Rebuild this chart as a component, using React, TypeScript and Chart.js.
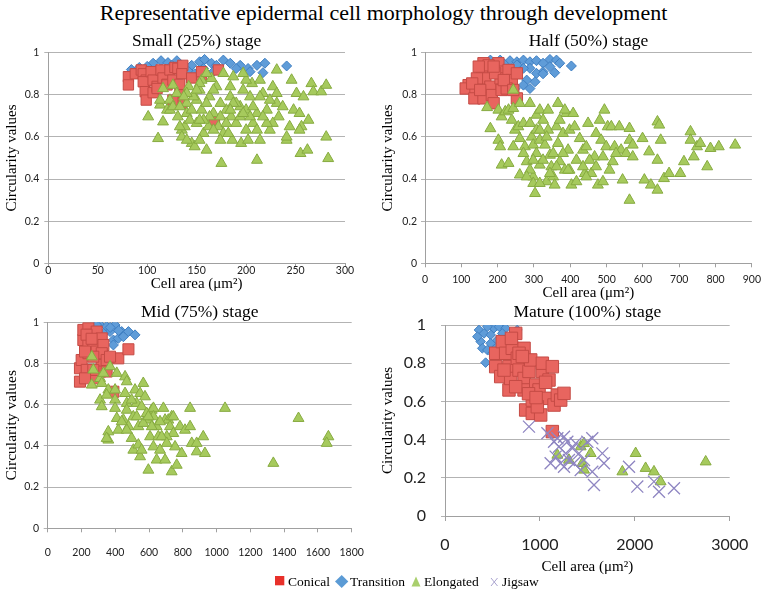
import React, { useEffect, useRef } from "react";
import { Chart, registerables } from "chart.js";

Chart.register(...registerables);

type P = [number, number];

const SERIF = '"Liberation Serif", "Times New Roman", Times, serif';
const SANS = 'Lato, "Liberation Sans", Arial, sans-serif';

const mainTitle = "Representative epidermal cell morphology through development";
const seriesNames = ["Conical", "Transition", "Elongated", "Jigsaw"];
const yTitle = "Circularity values";
const xTitle = "Cell area (μm²)";

const yTicks = [0, 0.2, 0.4, 0.6, 0.8, 1];
const smallXTicks = [0, 50, 100, 150, 200, 250, 300];
const halfXTicks = [0, 100, 200, 300, 400, 500, 600, 700, 800, 900];
const midXTicks = [0, 200, 400, 600, 800, 1000, 1200, 1400, 1600, 1800];
const matureXTicks = [0, 1000, 2000, 3000];

// ---------- Small (25%) ----------
const smallConical: P[] = [
  [81, 0.886], [81, 0.847], [88, 0.9], [94, 0.918], [96, 0.9], [99, 0.87], [96, 0.862], [98, 0.815],
  [99, 0.775], [104, 0.91], [106, 0.87], [106, 0.81], [110, 0.84], [110, 0.83], [114, 0.918], [116, 0.88],
  [120, 0.85], [123, 0.918], [120, 0.847], [126, 0.87], [128, 0.93], [131, 0.926], [136, 0.94], [135, 0.9],
  [133, 0.85], [133, 0.8], [135, 0.76], [126, 0.775], [145, 0.88], [155, 0.894], [155, 0.91], [172, 0.918],
  [168, 0.68],
];
const smallTransition: P[] = [
  [84, 0.92], [106, 0.95], [114, 0.962], [121, 0.953], [130, 0.962], [137, 0.934], [145, 0.94], [153, 0.957],
  [158, 0.968], [165, 0.95], [170, 0.94], [177, 0.965], [184, 0.95], [194, 0.94], [202, 0.925], [211, 0.94],
  [219, 0.95], [217, 0.905], [204, 0.91], [241, 0.937], [133, 0.886], [142, 0.91], [148, 0.9], [157, 0.925],
  [167, 0.91], [190, 0.925], [174, 0.91], [92, 0.93], [100, 0.935], [125, 0.94],
];
const smallElongated: P[] = [
  [101, 0.696], [111, 0.593], [116, 0.672], [113, 0.752], [116, 0.83], [113, 0.775], [120, 0.728], [123, 0.775],
  [126, 0.846], [130, 0.807], [123, 0.728], [131, 0.696], [135, 0.633], [135, 0.6], [138, 0.649], [140, 0.712],
  [142, 0.839], [145, 0.57], [148, 0.554], [143, 0.68], [150, 0.775], [153, 0.823], [155, 0.87], [155, 0.728],
  [157, 0.617], [160, 0.538], [162, 0.649], [163, 0.791], [165, 0.878], [167, 0.712], [170, 0.839], [172, 0.649],
  [175, 0.475], [177, 0.617], [177, 0.902], [180, 0.728], [184, 0.839], [184, 0.791], [185, 0.696], [187, 0.886],
  [190, 0.665], [194, 0.744], [195, 0.57], [197, 0.823], [200, 0.633], [202, 0.585], [204, 0.791], [206, 0.854],
  [207, 0.665], [211, 0.49], [211, 0.712], [214, 0.585], [217, 0.807], [221, 0.728], [224, 0.633], [227, 0.839],
  [231, 0.918], [233, 0.696], [231, 0.807], [241, 0.585], [244, 0.649], [246, 0.87], [248, 0.728], [251, 0.807],
  [255, 0.522], [258, 0.791], [256, 0.649], [262, 0.538], [263, 0.68], [266, 0.854], [268, 0.815], [276, 0.815],
  [281, 0.846], [281, 0.6], [283, 0.498], [241, 0.6], [254, 0.712], [254, 0.633], [227, 0.665], [221, 0.665],
  [217, 0.696], [186, 0.585], [182, 0.617], [174, 0.585], [153, 0.585], [150, 0.665], [140, 0.585], [133, 0.649],
  [140, 0.76], [147, 0.791], [145, 0.728], [160, 0.76], [167, 0.823], [174, 0.76], [174, 0.696], [190, 0.76],
  [194, 0.696], [200, 0.728], [204, 0.696], [200, 0.87], [214, 0.87], [197, 0.902], [187, 0.76], [180, 0.665],
  [163, 0.696], [157, 0.68], [167, 0.633], [153, 0.68], [126, 0.744], [133, 0.744], [153, 0.854], [160, 0.902],
  [150, 0.823], [140, 0.807], [137, 0.791], [231, 0.76], [224, 0.775], [237, 0.744], [214, 0.791], [184, 0.728],
  [211, 0.633], [207, 0.744], [197, 0.712],
];

// ---------- Half (50%) ----------
const halfConical: P[] = [
  [120, 0.846], [112, 0.83], [139, 0.807], [136, 0.783], [161, 0.95], [157, 0.91], [166, 0.878], [180, 0.839],
  [161, 0.783], [184, 0.799], [202, 0.95], [211, 0.91], [208, 0.878], [211, 0.823], [230, 0.918], [239, 0.87],
  [253, 0.902], [225, 0.83], [193, 0.902], [175, 0.94], [143, 0.878], [130, 0.854], [253, 0.783], [189, 0.76],
  [148, 0.934], [189, 0.934], [217, 0.87], [152, 0.823], [243, 0.823],
];
const halfTransition: P[] = [
  [180, 0.965], [207, 0.965], [234, 0.962], [253, 0.957], [271, 0.965], [289, 0.957], [307, 0.962], [325, 0.95],
  [344, 0.968], [362, 0.965], [371, 0.95], [403, 0.937], [357, 0.905], [325, 0.91], [307, 0.902], [289, 0.926],
  [271, 0.926], [253, 0.942], [303, 0.862], [280, 0.87], [271, 0.846], [289, 0.83], [248, 0.83], [325, 0.9],
  [344, 0.934], [216, 0.95],
];
const halfElongated: P[] = [
  [171, 0.74], [180, 0.64], [202, 0.728], [202, 0.585], [207, 0.554], [211, 0.696], [221, 0.72], [211, 0.467],
  [230, 0.728], [230, 0.475], [239, 0.68], [243, 0.736], [243, 0.823], [248, 0.633], [243, 0.554], [257, 0.649],
  [261, 0.76], [261, 0.593], [261, 0.42], [271, 0.665], [275, 0.554], [280, 0.483], [289, 0.76], [289, 0.665],
  [294, 0.6], [298, 0.562], [298, 0.411], [298, 0.38], [303, 0.332], [307, 0.704], [307, 0.633], [307, 0.522],
  [316, 0.728], [316, 0.585], [316, 0.467], [325, 0.68], [330, 0.562], [335, 0.388], [339, 0.728], [339, 0.633],
  [344, 0.514], [348, 0.459], [353, 0.411], [357, 0.372], [362, 0.649], [366, 0.76], [366, 0.57], [371, 0.483],
  [380, 0.617], [385, 0.443], [389, 0.712], [394, 0.538], [398, 0.633], [403, 0.372], [408, 0.712], [412, 0.649],
  [417, 0.388], [426, 0.593], [435, 0.538], [440, 0.427], [444, 0.554], [449, 0.665], [458, 0.427], [467, 0.506],
  [471, 0.617], [476, 0.372], [481, 0.68], [485, 0.585], [490, 0.388], [494, 0.728], [499, 0.554], [503, 0.649],
  [513, 0.649], [517, 0.483], [522, 0.554], [535, 0.649], [540, 0.538], [544, 0.396], [554, 0.522], [563, 0.641],
  [563, 0.585], [563, 0.3], [572, 0.506], [599, 0.593], [604, 0.396], [617, 0.53], [622, 0.372], [640, 0.348],
  [640, 0.49], [640, 0.672], [645, 0.657], [649, 0.585], [658, 0.403], [672, 0.427], [703, 0.427], [713, 0.483],
  [731, 0.625], [731, 0.585], [740, 0.506], [749, 0.554], [758, 0.57], [777, 0.459], [786, 0.546], [809, 0.554],
  [854, 0.562], [572, 0.562], [398, 0.443], [362, 0.459], [316, 0.38], [289, 0.443], [280, 0.411], [344, 0.427],
  [380, 0.522], [453, 0.49], [435, 0.459], [471, 0.459], [490, 0.506], [508, 0.443], [526, 0.522], [325, 0.49],
  [353, 0.522], [298, 0.49], [271, 0.522], [316, 0.633], [385, 0.728], [371, 0.68], [335, 0.6], [417, 0.49],
  [394, 0.443], [444, 0.411],
];

// ---------- Mid (75%) ----------
const midConical: P[] = [
  [191, 0.712], [191, 0.777], [201, 0.817], [211, 0.914], [211, 0.963], [241, 0.971], [251, 0.939], [241, 0.89],
  [241, 0.85], [231, 0.769], [270, 0.898], [290, 0.858], [290, 0.955], [320, 0.922], [330, 0.89], [320, 0.85],
  [320, 0.793], [310, 0.761], [280, 0.728], [270, 0.769], [349, 0.817], [349, 0.761], [389, 0.663], [418, 0.825],
  [478, 0.869], [369, 0.833], [221, 0.728], [270, 0.833], [221, 0.858], [230, 0.94], [260, 0.92],
];
const midTransition: P[] = [
  [310, 0.987], [349, 0.979], [399, 0.987], [438, 0.955], [478, 0.955], [517, 0.939], [369, 0.955], [389, 0.914],
  [418, 0.922], [330, 0.947], [290, 0.987], [389, 0.89], [448, 0.93], [370, 0.975], [420, 0.96],
];
const midElongated: P[] = [
  [261, 0.833], [270, 0.769], [261, 0.696], [310, 0.728], [320, 0.704], [330, 0.753], [369, 0.785], [310, 0.623],
  [320, 0.591], [359, 0.672], [349, 0.647], [399, 0.672], [409, 0.753], [399, 0.623], [399, 0.583], [409, 0.534],
  [458, 0.736], [468, 0.712], [458, 0.655], [468, 0.607], [448, 0.526], [359, 0.469], [359, 0.429], [418, 0.477],
  [478, 0.494], [468, 0.574], [497, 0.437], [507, 0.542], [517, 0.672], [547, 0.655], [566, 0.704], [527, 0.607],
  [556, 0.591], [507, 0.38], [537, 0.405], [547, 0.348], [556, 0.38], [537, 0.494], [596, 0.526], [606, 0.445],
  [596, 0.283], [616, 0.574], [626, 0.396], [626, 0.583], [645, 0.494], [655, 0.445], [645, 0.332], [665, 0.38],
  [685, 0.583], [695, 0.526], [695, 0.332], [714, 0.526], [724, 0.494], [734, 0.542], [744, 0.461], [734, 0.275],
  [764, 0.307], [754, 0.396], [783, 0.494], [793, 0.364], [813, 0.477], [843, 0.583], [843, 0.494], [853, 0.413],
  [882, 0.372], [882, 0.413], [921, 0.445], [931, 0.364], [1050, 0.583], [1336, 0.316], [1485, 0.534],
  [1662, 0.445], [1652, 0.413], [576, 0.639], [626, 0.542], [705, 0.445], [675, 0.445], [705, 0.413], [616, 0.494],
  [566, 0.51], [586, 0.558], [468, 0.477], [497, 0.623], [527, 0.542], [438, 0.518], [349, 0.437], [596, 0.542],
  [744, 0.542], [665, 0.518],
];

// ---------- Mature (100%) ----------
const matureConical: P[] = [
  [534, 0.782], [534, 0.852], [587, 0.73], [604, 0.913], [639, 0.852], [674, 0.782], [674, 0.66], [692, 0.72],
  [709, 0.878], [745, 0.956], [762, 0.826], [780, 0.764], [833, 0.878], [833, 0.72], [833, 0.66], [850, 0.555],
  [885, 0.757], [903, 0.817], [920, 0.607], [920, 0.537], [956, 0.686], [991, 0.66], [1008, 0.529], [1026, 0.757],
  [1026, 0.8], [1079, 0.616], [1096, 0.712], [1131, 0.782], [1149, 0.581], [1184, 0.633], [1219, 0.607],
  [1254, 0.642], [1131, 0.442], [973, 0.572], [780, 0.852], [622, 0.764], [815, 0.835], [745, 0.677],
  [700, 0.93], [880, 0.64], [960, 0.62], [1060, 0.7],
];
const matureTransition: P[] = [
  [358, 0.974], [411, 0.956], [376, 0.913], [393, 0.878], [428, 0.803], [481, 0.948], [516, 0.983], [569, 0.991],
  [639, 0.983], [604, 0.956], [551, 0.921], [481, 0.904], [446, 0.869], [762, 0.974], [499, 0.852], [534, 0.878],
  [341, 0.939], [446, 0.991], [674, 0.93],
];
const matureElongated: P[] = [
  [1184, 0.319], [1430, 0.363], [1465, 0.38], [1447, 0.276], [1465, 0.241], [1535, 0.328], [1869, 0.232],
  [2009, 0.328], [2114, 0.25], [2202, 0.232], [2272, 0.18], [2747, 0.284], [1306, 0.293],
];
const matureJigsaw: P[] = [
  [885, 0.468], [1079, 0.433], [1149, 0.389], [1166, 0.311], [1201, 0.363], [1219, 0.276], [1254, 0.415],
  [1271, 0.328], [1306, 0.293], [1342, 0.354], [1377, 0.38], [1412, 0.328], [1430, 0.241], [1465, 0.293],
  [1500, 0.389], [1552, 0.407], [1552, 0.232], [1570, 0.162], [1658, 0.328], [1675, 0.276], [1939, 0.258],
  [2026, 0.154], [2202, 0.18], [2255, 0.127], [2413, 0.145], [1184, 0.407], [1289, 0.389], [1113, 0.276],
  [1254, 0.258], [1359, 0.276],
];

const colors = {
  conicalFill: "#e8655f",
  conicalLine: "#c54b45",
  transitionFill: "#5f9cd8",
  transitionLine: "#3f7fc2",
  elongatedFill: "#a6ca5d",
  elongatedLine: "#87ab40",
  jigsaw: "#8f86c2",
  grid: "#b3b3b3",
  axis: "#a0a0a0",
  tick: "#222",
};

interface PanelSpec {
  title: string;
  box: { l: number; t: number; w: number; h: number };
  area: { l: number; t: number; r: number; b: number };
  titleCY: number;
  titleSize: number;
  tickFont: number;
  yTickLen: number;
  yTickPad: number;
  xTickLen: number;
  xTickPad: number;
  showXTitle: boolean;
  xTitleSize: number;
  yTitleCX: number;
  yTitleSize: number;
  xTicks: number[];
  mk: { sq: number; di: number; tri: number; x: number };
  conical: P[];
  transition: P[];
  elongated: P[];
  jigsaw?: P[];
}

const panels: PanelSpec[] = [
  {
    title: "Small (25%) stage",
    box: { l: 0, t: 30, w: 384, h: 263 },
    area: { l: 48.3, t: 52.7, r: 345, b: 263.3 },
    titleCY: 41.3, titleSize: 17.5, tickFont: 10.5,
    yTickLen: 4, yTickPad: 5, xTickLen: 3, xTickPad: -2,
    showXTitle: true, xTitleSize: 15, yTitleCX: 12, yTitleSize: 15,
    xTicks: smallXTicks,
    mk: { sq: 7.3, di: 5, tri: 6.3, x: 8 },
    conical: smallConical, transition: smallTransition, elongated: smallElongated,
  },
  {
    title: "Half (50%) stage",
    box: { l: 376, t: 30, w: 391, h: 272 },
    area: { l: 425, t: 52.7, r: 754, b: 263.3 },
    titleCY: 41.3, titleSize: 17.5, tickFont: 10.5,
    yTickLen: 4, yTickPad: 4, xTickLen: 4, xTickPad: 6,
    showXTitle: true, xTitleSize: 15, yTitleCX: 388, yTitleSize: 15,
    xTicks: halfXTicks,
    mk: { sq: 8, di: 5, tri: 6.3, x: 8 },
    conical: halfConical, transition: halfTransition, elongated: halfElongated,
  },
  {
    title: "Mid (75%) stage",
    box: { l: 0, t: 298, w: 384, h: 270 },
    area: { l: 47.7, t: 322.3, r: 351.7, b: 528.3 },
    titleCY: 312.7, titleSize: 17.5, tickFont: 10.5,
    yTickLen: 4, yTickPad: 4.7, xTickLen: 4, xTickPad: 14,
    showXTitle: false, xTitleSize: 15, yTitleCX: 12, yTitleSize: 15.5,
    xTicks: midXTicks,
    mk: { sq: 7.8, di: 5, tri: 6.3, x: 8 },
    conical: midConical, transition: midTransition, elongated: midElongated,
  },
  {
    title: "Mature (100%) stage",
    box: { l: 376, t: 298, w: 391, h: 278 },
    area: { l: 445, t: 325, r: 729.7, b: 516 },
    titleCY: 312.7, titleSize: 17.5, tickFont: 16,
    yTickLen: 4, yTickPad: 15, xTickLen: 5, xTickPad: 14,
    showXTitle: true, xTitleSize: 15, yTitleCX: 388, yTitleSize: 15,
    xTicks: matureXTicks,
    mk: { sq: 8.8, di: 4.8, tri: 6.3, x: 8.5 },
    conical: matureConical, transition: matureTransition, elongated: matureElongated, jigsaw: matureJigsaw,
  },
];

const toXY = (arr: P[]) => arr.map(([x, y]) => ({ x, y }));

function Panel({ spec }: { spec: PanelSpec }) {
  const ref = useRef<HTMLCanvasElement | null>(null);
  useEffect(() => {
    const c = ref.current;
    if (!c) return;
    const s = spec;
    const tLH = s.titleSize * 1.2;
    const padTop = s.titleCY - s.box.t - tLH / 2;
    const padBottom = s.area.t - s.box.t - padTop - tLH;
    const datasets: any[] = [];
    if (s.jigsaw) {
      datasets.push({
        label: seriesNames[3], data: toXY(s.jigsaw), pointStyle: "crossRot",
        pointRadius: s.mk.x, borderColor: colors.jigsaw, backgroundColor: colors.jigsaw, borderWidth: 1.3,
      });
    }
    datasets.push({
      label: seriesNames[2], data: toXY(s.elongated), pointStyle: "triangle",
      pointRadius: s.mk.tri, backgroundColor: colors.elongatedFill, borderColor: colors.elongatedLine, borderWidth: 1,
    });
    datasets.push({
      label: seriesNames[0], data: toXY(s.conical), pointStyle: "rect",
      pointRadius: s.mk.sq, backgroundColor: colors.conicalFill, borderColor: colors.conicalLine, borderWidth: 1,
    });
    datasets.push({
      label: seriesNames[1], data: toXY(s.transition), pointStyle: "rectRot",
      pointRadius: s.mk.di, backgroundColor: colors.transitionFill, borderColor: colors.transitionLine, borderWidth: 1,
    });
    const xt = s.xTicks;
    const chart = new Chart(c, {
      type: "scatter",
      data: { datasets },
      options: {
        responsive: false,
        animation: false,
        devicePixelRatio: 1,
        layout: { padding: { left: 0, top: 0, right: s.box.l + s.box.w - s.area.r, bottom: 0 } },
        plugins: {
          legend: { display: false },
          tooltip: { enabled: false },
          title: {
            display: true,
            text: s.title,
            fullSize: false,
            color: "#000",
            font: { family: SERIF, size: s.titleSize, weight: "normal" },
            padding: { top: padTop, bottom: padBottom },
          },
        },
        scales: {
          x: {
            type: "linear",
            min: xt[0],
            max: xt[xt.length - 1],
            afterFit: (sc: any) => { sc.height = s.box.t + s.box.h - s.area.b; },
            ticks: {
              stepSize: xt[1] - xt[0],
              maxRotation: 0,
              autoSkip: false,
              padding: s.xTickPad,
              color: colors.tick,
              font: { family: SANS, size: s.tickFont },
              callback: (v: any) => String(v),
            },
            grid: { display: true, drawOnChartArea: false, drawTicks: true, tickLength: s.xTickLen, color: colors.axis },
            border: { display: true, color: colors.axis },
            title: {
              display: s.showXTitle,
              text: xTitle,
              color: "#000",
              font: { family: SERIF, size: s.xTitleSize },
              padding: { top: 0, bottom: 0 },
            },
          },
          y: {
            type: "linear",
            min: yTicks[0],
            max: yTicks[yTicks.length - 1],
            afterFit: (sc: any) => { sc.width = s.area.l - s.box.l; },
            ticks: {
              stepSize: yTicks[1] - yTicks[0],
              padding: s.yTickPad,
              color: colors.tick,
              font: { family: SANS, size: s.tickFont },
              callback: (v: any) => String(Math.round(Number(v) * 10) / 10),
            },
            grid: { display: true, drawTicks: true, tickLength: s.yTickLen, color: colors.grid },
            border: { display: true, color: colors.axis },
            title: {
              display: true,
              text: yTitle,
              color: "#000",
              font: { family: SERIF, size: s.yTitleSize },
              padding: { top: s.yTitleCX - s.box.l - (s.yTitleSize * 1.2) / 2, bottom: 0 },
            },
          },
        },
      } as any,
    });
    return () => chart.destroy();
  }, [spec]);
  return (
    <canvas
      ref={ref}
      width={spec.box.w}
      height={spec.box.h}
      style={{ position: "absolute", left: spec.box.l, top: spec.box.t, width: spec.box.w, height: spec.box.h }}
    />
  );
}

const legendText: React.CSSProperties = {
  position: "absolute",
  top: 573,
  height: 18,
  lineHeight: "18px",
  fontFamily: SERIF,
  fontSize: 13.5,
  color: "#000",
  whiteSpace: "nowrap",
};

export default function App() {
  return (
    <div style={{ position: "absolute", left: 0, top: 0, width: 767, height: 593, background: "#fff", overflow: "hidden" }}>
      <div
        style={{
          position: "absolute", left: 0, top: 0, width: 767, height: 26, lineHeight: "26px",
          textAlign: "center", fontFamily: SERIF, fontSize: 22, color: "#000", whiteSpace: "nowrap",
        }}
      >
        {mainTitle}
      </div>
      {panels.map((p, i) => (
        <Panel key={i} spec={p} />
      ))}
      <svg style={{ position: "absolute", left: 0, top: 570, overflow: "visible" }} width={767} height={22}>
        <rect x={275} y={6} width={9.3} height={9.3} fill="#e8302a" />
        <polygon points="341.7,5 348.3,11.5 341.7,18 335,11.5" fill="#5b9bd5" />
        <polygon points="416,6.5 420.5,16.5 411.5,16.5" fill="#a9cf6d" />
        <g stroke="#a9a3cf" strokeWidth={1}>
          <line x1={491} y1={8} x2={497.5} y2={16} />
          <line x1={497.5} y1={8} x2={491} y2={16} />
        </g>
      </svg>
      <div style={{ ...legendText, left: 288 }}>{seriesNames[0]}</div>
      <div style={{ ...legendText, left: 350 }}>{seriesNames[1]}</div>
      <div style={{ ...legendText, left: 424 }}>{seriesNames[2]}</div>
      <div style={{ ...legendText, left: 502 }}>{seriesNames[3]}</div>
    </div>
  );
}
